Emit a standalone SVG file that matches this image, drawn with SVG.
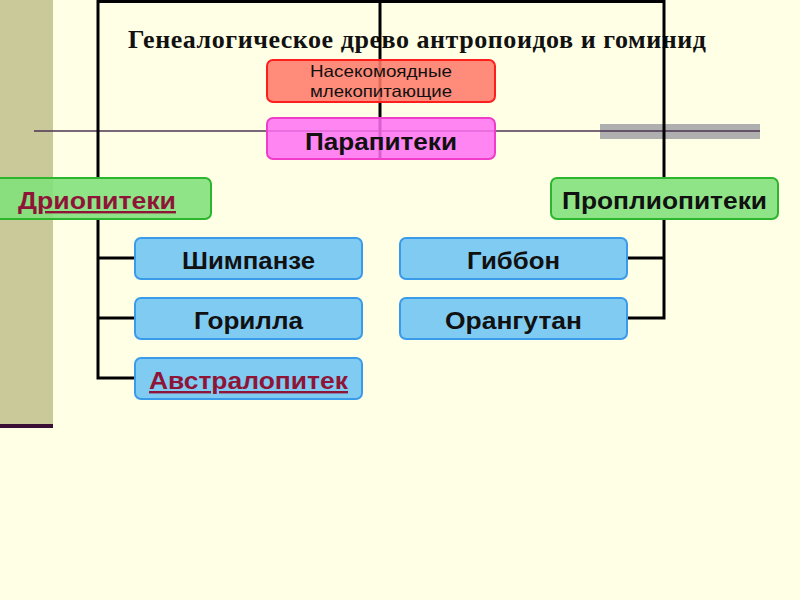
<svg xmlns="http://www.w3.org/2000/svg" width="800" height="600" viewBox="0 0 800 600">
<style>
.t{font-family:"Liberation Sans",Arial,sans-serif;font-weight:bold;text-anchor:middle;fill:#111}
.big{font-size:24px}
.small{font-size:16.5px;font-weight:normal}
.link{fill:#8E1538;text-decoration:underline}
.red{fill:#FF7B6B;stroke:#FF1E1E;stroke-width:2;fill-opacity:0.88}
.pink{fill:#FF70F5;stroke:#F03CC8;stroke-width:2;fill-opacity:0.85}
.green{fill:#7FE07A;stroke:#2DB52D;stroke-width:2;fill-opacity:0.88}
.blue{fill:#80CBF2;stroke:#3A9BEA;stroke-width:2}
.conn{fill:none;stroke:#000;stroke-width:3}
</style>
<rect width="800" height="600" fill="#FFFFE6"/>
<rect x="0" y="0" width="53" height="424" fill="#CAC99A"/>
<rect x="0" y="424" width="53" height="4" fill="#3A0E35"/>
<rect x="600" y="124" width="160" height="15" fill="#B0AFB0"/>
<line x1="34" y1="131" x2="760" y2="131" stroke="#4B3550" stroke-width="1.5"/>
<text x="417" y="48" font-family="'Liberation Serif','Times New Roman',serif" font-weight="bold" font-size="26" text-anchor="middle" textLength="578" lengthAdjust="spacing" fill="#111">Генеалогическое древо антропоидов и гоминид</text>
<g id="connectors">
<path class="conn" d="M98,179 V1.5 H664 V179"/>
<line class="conn" x1="380" y1="0" x2="380" y2="158"/>
<path class="conn" d="M98,218 V378 H136 M98,258 H136 M98,318 H136"/>
<path class="conn" d="M664,218 V318 H626 M664,258 H626"/>
</g>
<g id="insect">
<rect class="red" x="267" y="60" width="228" height="42" rx="6"/>
<text class="t small" x="381" y="77" textLength="142" lengthAdjust="spacingAndGlyphs">Насекомоядные</text>
<text class="t small" x="381" y="97" textLength="142" lengthAdjust="spacingAndGlyphs">млекопитающие</text>
</g>
<g id="parapith">
<rect class="pink" x="267" y="118" width="228" height="41" rx="6"/>
<text class="t big" x="381" y="150" textLength="152" lengthAdjust="spacingAndGlyphs">Парапитеки</text>
</g>
<g id="dryo">
<rect class="green" x="-17" y="178" width="228" height="41" rx="6"/>
<text class="t big link" x="97" y="209" textLength="158" lengthAdjust="spacingAndGlyphs">Дриопитеки</text>
</g>
<g id="propl">
<rect class="green" x="551" y="178" width="227" height="41" rx="6"/>
<text class="t big" x="664.5" y="209" textLength="205" lengthAdjust="spacingAndGlyphs">Проплиопитеки</text>
</g>
<g id="chimp">
<rect class="blue" x="135" y="238" width="227" height="41" rx="6"/>
<text class="t big" x="248.5" y="269" textLength="133" lengthAdjust="spacingAndGlyphs">Шимпанзе</text>
</g>
<g id="gorilla">
<rect class="blue" x="135" y="298" width="227" height="41" rx="6"/>
<text class="t big" x="248.5" y="329" textLength="109" lengthAdjust="spacingAndGlyphs">Горилла</text>
</g>
<g id="austral">
<rect class="blue" x="135" y="358" width="227" height="41" rx="6"/>
<text class="t big link" x="248.5" y="389" textLength="199" lengthAdjust="spacingAndGlyphs">Австралопитек</text>
</g>
<g id="gibbon">
<rect class="blue" x="400" y="238" width="227" height="41" rx="6"/>
<text class="t big" x="513.5" y="269" textLength="93" lengthAdjust="spacingAndGlyphs">Гиббон</text>
</g>
<g id="orang">
<rect class="blue" x="400" y="298" width="227" height="41" rx="6"/>
<text class="t big" x="513.5" y="329" textLength="137" lengthAdjust="spacingAndGlyphs">Орангутан</text>
</g>
</svg>
